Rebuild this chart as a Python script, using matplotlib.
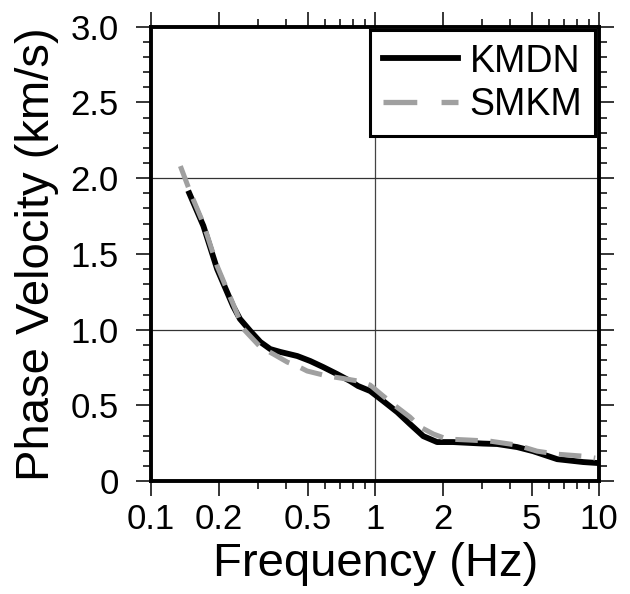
import matplotlib.pyplot as plt
from matplotlib.lines import Line2D
from matplotlib.ticker import FixedLocator, FixedFormatter, NullFormatter

plt.rcParams['font.family'] = ['Liberation Sans', 'DejaVu Sans']

# KMDN (black solid)
freq_kmdn = [0.148, 0.171, 0.197, 0.232, 0.249, 0.277, 0.307, 0.340, 0.377, 0.449,
             0.513, 0.586, 0.676, 0.773, 0.839, 0.950, 1.086, 1.254, 1.43, 1.64,
             1.89, 2.23, 3.03, 3.51, 4.30, 5.07, 6.50, 8.49, 10.0]
vel_kmdn = [1.90, 1.685, 1.40, 1.156, 1.071, 0.991, 0.919, 0.872, 0.853, 0.826,
            0.793, 0.753, 0.707, 0.661, 0.628, 0.595, 0.529, 0.456, 0.377, 0.297,
            0.258, 0.258, 0.248, 0.245, 0.225, 0.198, 0.145, 0.126, 0.119]

# SMKM (grey dashed)
freq_smkm = [0.135, 0.150, 0.171, 0.197, 0.232, 0.258, 0.307, 0.351, 0.405, 0.449,
             0.497, 0.611, 0.698, 0.839, 0.950, 1.086, 1.20, 1.43, 1.59, 1.82,
             2.09, 2.65, 3.26, 4.30, 5.28, 6.50, 8.49, 9.6]
vel_smkm = [2.08, 1.90, 1.70, 1.42, 1.17, 1.005, 0.886, 0.839, 0.786, 0.760,
            0.727, 0.694, 0.681, 0.661, 0.634, 0.562, 0.509, 0.423, 0.357, 0.311,
            0.278, 0.271, 0.264, 0.238, 0.198, 0.178, 0.165, 0.152]

x_major = [0.1, 0.2, 0.5, 1, 2, 5, 10]
x_major_labels = ['0.1', '0.2', '0.5', '1', '2', '5', '10']
x_minor = [0.3, 0.4, 0.6, 0.7, 0.8, 0.9, 3, 4, 6, 7, 8, 9]
y_major = [0, 0.5, 1.0, 1.5, 2.0, 2.5, 3.0]
y_major_labels = ['0', '0.5', '1.0', '1.5', '2.0', '2.5', '3.0']
y_minor = [i / 10 for i in range(31) if i % 5 != 0]

fig = plt.figure(figsize=(6.3, 5.94), dpi=100)
ax = fig.add_axes([0.240, 0.190, 0.711, 0.765])

grey = '#a0a0a0'

# grid only at 1 Hz and 1.0 / 2.0 km/s
ax.axvline(1, color='#444444', lw=0.9, zorder=1)
for yv in (1.0, 2.0):
    ax.axhline(yv, color='#333333', lw=0.9, zorder=1)

ax.plot(freq_kmdn, vel_kmdn, color='black', lw=4.2, solid_joinstyle='round', zorder=3)
ax.plot(freq_smkm, vel_smkm, color=grey, lw=3.6, dashes=(4.5, 2.5), zorder=4)

ax.set_xscale('log')
ax.set_xlim(0.1, 10)
ax.set_ylim(0, 3.0)

ax.xaxis.set_major_locator(FixedLocator(x_major))
ax.xaxis.set_major_formatter(FixedFormatter(x_major_labels))
ax.xaxis.set_minor_locator(FixedLocator(x_minor))
ax.xaxis.set_minor_formatter(NullFormatter())
ax.yaxis.set_major_locator(FixedLocator(y_major))
ax.yaxis.set_major_formatter(FixedFormatter(y_major_labels))
ax.yaxis.set_minor_locator(FixedLocator(y_minor))

ax.tick_params(which='both', direction='out', top=True, right=True, width=1.1)
ax.tick_params(which='major', length=10.5, labelsize=25)
ax.tick_params(which='minor', length=5.5)
ax.tick_params(axis='x', which='major', pad=5)
ax.tick_params(axis='y', which='major', pad=13)

for sp in ax.spines.values():
    sp.set_linewidth(2.8)

ax.set_xlabel('Frequency (Hz)', fontsize=34)
ax.set_ylabel('Phase Velocity (km/s)', fontsize=34)
ax.xaxis.set_label_coords(0.5, -0.135)
ax.yaxis.set_label_coords(-0.205, 0.5)

handles = [Line2D([], [], color='black', lw=4.2),
           Line2D([], [], color=grey, lw=3.8, dashes=(6.4, 4.6))]
leg = ax.legend(handles, ['KMDN', 'SMKM'], loc='upper right', fontsize=27,
                frameon=True, fancybox=False, framealpha=1, edgecolor='black',
                borderaxespad=0.1, borderpad=0.35, handlelength=2.0,
                handletextpad=0.3, labelspacing=0.2)
leg.get_frame().set_linewidth(2.2)

fig.savefig('out.png', dpi=100)
